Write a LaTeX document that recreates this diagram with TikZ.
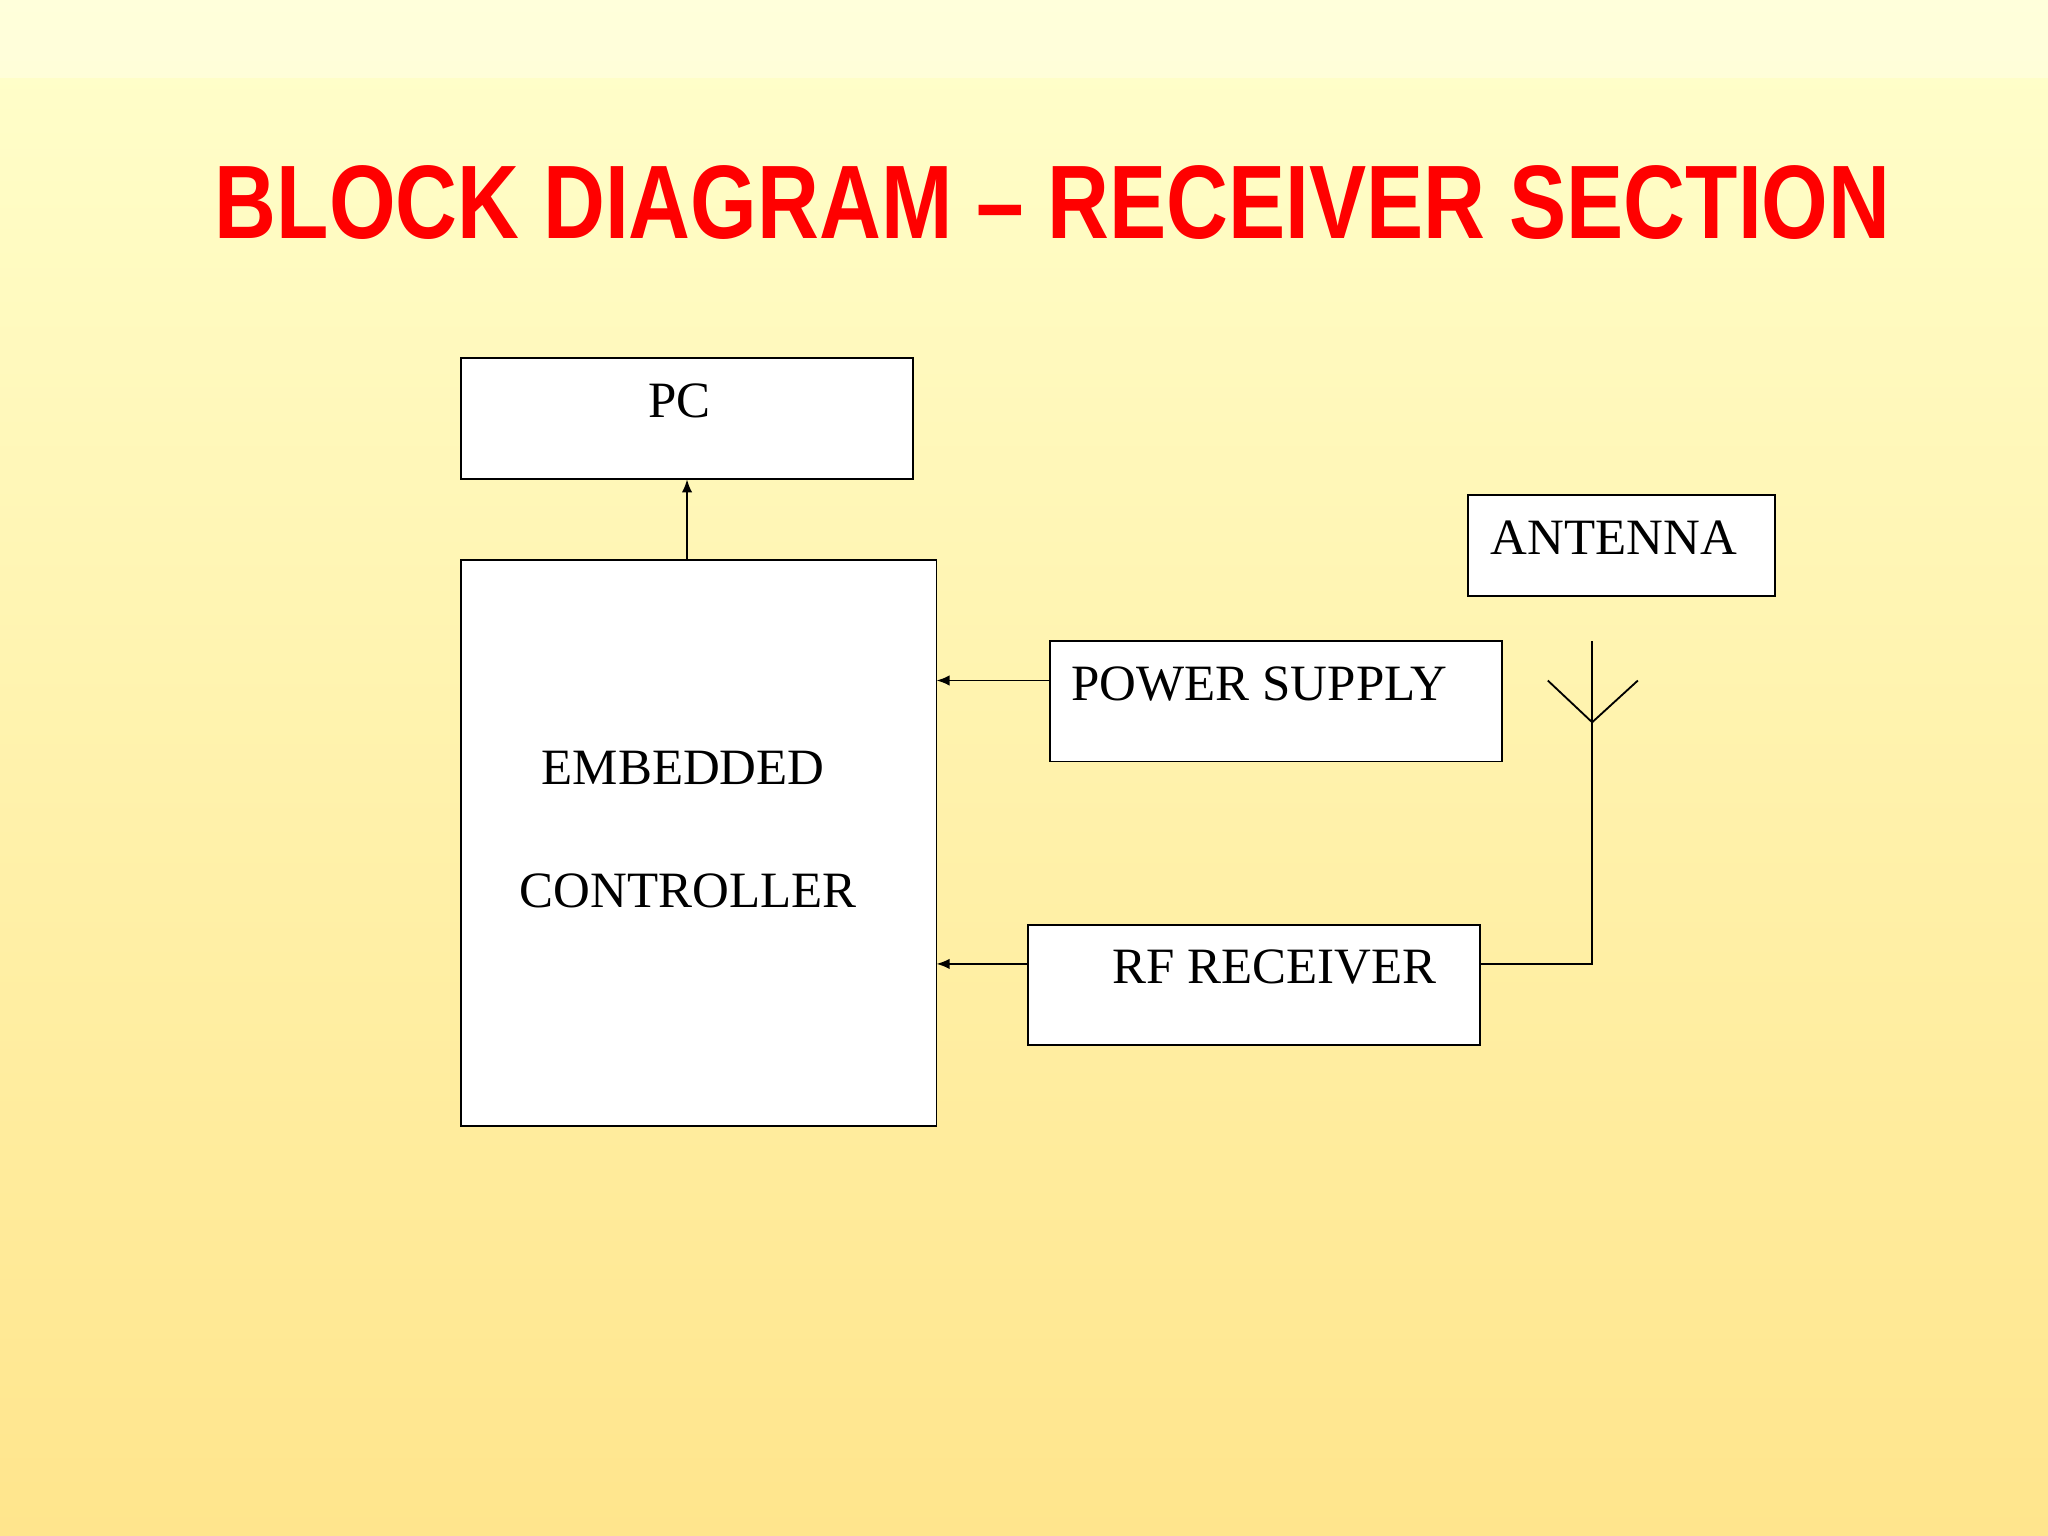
\documentclass[tikz,border=0pt]{standalone}
\usepackage{fontspec}
\setmainfont{Liberation Serif}
\newfontfamily\titlefont{Liberation Sans}
\usetikzlibrary{arrows.meta}
\begin{document}
\begin{tikzpicture}[x=0.5pt,y=-0.5pt,
  box/.style={draw=black,line width=0.7pt,fill=white},
  lbl/.style={font=\fontsize{19.5}{22}\selectfont,inner sep=0pt},
  arr/.style={draw=black,line width=0.7pt,-{Latex[length=5pt,width=4pt]}}]
\useasboundingbox (0,0) rectangle (1568,1176);
\shade[top color=yellow!20!white, bottom color=orange!45!yellow!45!white] (0,0) rectangle (1568,1176);
\fill[white,opacity=0.3] (0,0) rectangle (1568,60);
\node[text=red,font=\titlefont\bfseries\fontsize{40}{44}\selectfont,inner sep=0pt] (title) at (806,155) {\scalebox{0.82}[1]{BLOCK DIAGRAM – RECEIVER SECTION}};
\draw[box] (353,274) rectangle (699,367);
\node[lbl] (pc) at (520,307) {PC};
\coordinate (pcb) at (526,367);
\draw[box] (353,429) rectangle (717,862);
\coordinate (ect) at (526,429);
\node[lbl] (emb) at (523,588) {EMBEDDED};
\node[lbl] (ctl) at (527,682) {CONTROLLER};
\draw[box] (804,491) rectangle (1150,583);
\node[lbl,anchor=west] (ps) at (820,524) {POWER SUPPLY};
\draw[box] (787,708) rectangle (1133,800);
\node[lbl,anchor=west] (rf) at (851,740) {RF RECEIVER};
\draw[box] (1124,379) rectangle (1359,456);
\node[lbl,anchor=west] (ant) at (1141,412) {ANTENNA};
\coordinate (psl) at (804,521); \coordinate (ps2) at (717,521);
\coordinate (rfl) at (787,738); \coordinate (rf2) at (717,738);
\draw[arr] (ect) -- (pcb);
\draw[arr] (psl) -- (ps2);
\draw[arr] (rfl) -- (rf2);
\coordinate (at) at (1219,491); \coordinate (ab) at (1219,738); \coordinate (rfr) at (1133,738);
\draw[line width=0.7pt] (at) -- (ab) -- (rfr);
\coordinate (v1) at (1185,521); \coordinate (v2) at (1219,553); \coordinate (v3) at (1254,521);
\draw[line width=0.7pt] (v1) -- (v2) -- (v3);
\end{tikzpicture}
\end{document}
